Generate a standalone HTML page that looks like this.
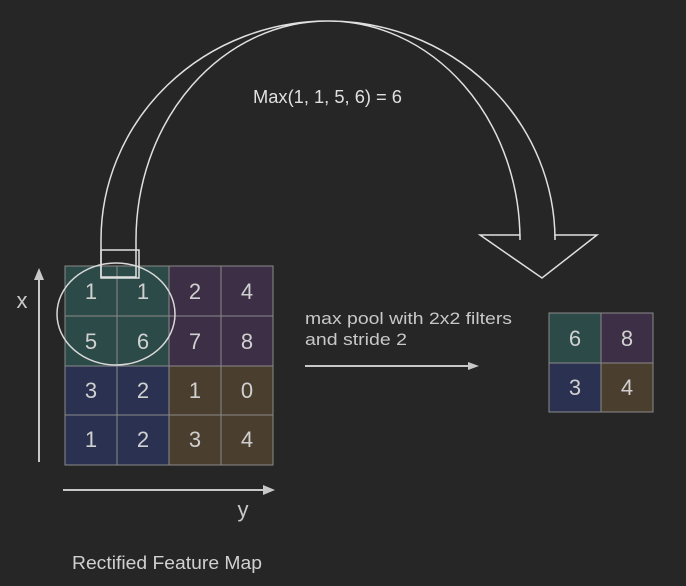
<!DOCTYPE html>
<html><head><style>body{margin:0;background:#262626;}svg{display:block}</style></head>
<body>
<svg width="686" height="586" xmlns="http://www.w3.org/2000/svg" font-family="Liberation Sans, sans-serif">
<rect width="686" height="586" fill="#262626"/>
<!-- left grid -->
<g stroke="#8a8a8a" stroke-width="1">
<rect x="65" y="266" width="52" height="50" fill="#2c4a47"/>
<rect x="117" y="266" width="52" height="50" fill="#2c4a47"/>
<rect x="65" y="316" width="52" height="50" fill="#2c4a47"/>
<rect x="117" y="316" width="52" height="50" fill="#2c4a47"/>
<rect x="169" y="266" width="52" height="50" fill="#3d2f45"/>
<rect x="221" y="266" width="52" height="50" fill="#3d2f45"/>
<rect x="169" y="316" width="52" height="50" fill="#3d2f45"/>
<rect x="221" y="316" width="52" height="50" fill="#3d2f45"/>
<rect x="65" y="366" width="52" height="49" fill="#2b3150"/>
<rect x="117" y="366" width="52" height="49" fill="#2b3150"/>
<rect x="65" y="415" width="52" height="50" fill="#2b3150"/>
<rect x="117" y="415" width="52" height="50" fill="#2b3150"/>
<rect x="169" y="366" width="52" height="49" fill="#4a3e2e"/>
<rect x="221" y="366" width="52" height="49" fill="#4a3e2e"/>
<rect x="169" y="415" width="52" height="50" fill="#4a3e2e"/>
<rect x="221" y="415" width="52" height="50" fill="#4a3e2e"/>
</g>
<g fill="#d0d0d0" font-size="22" text-anchor="middle">
<text x="91" y="299">1</text><text x="143" y="299">1</text><text x="195" y="299">2</text><text x="247" y="299">4</text>
<text x="91" y="349">5</text><text x="143" y="349">6</text><text x="195" y="349">7</text><text x="247" y="349">8</text>
<text x="91" y="398">3</text><text x="143" y="398">2</text><text x="195" y="398">1</text><text x="247" y="398">0</text>
<text x="91" y="447">1</text><text x="143" y="447">2</text><text x="195" y="447">3</text><text x="247" y="447">4</text>
</g>
<ellipse cx="116" cy="314" rx="59" ry="51" fill="none" stroke="#d8d8d8" stroke-width="1.5"/>
<!-- curved arrow -->
<path d="M101,277 L101,240 A227,219 0 0 1 555,240 L555,235 L597,235 L542,278 L480,235 L520,235 L520,240 A192,219 0 0 0 136,240 L136,277 Z" fill="none" stroke="#e0e0e0" stroke-width="1.5"/>
<rect x="101" y="250" width="38" height="28" fill="none" stroke="#e0e0e0" stroke-width="1.5"/>
<text x="253" y="103" fill="#e0e0e0" font-size="18" textLength="149" lengthAdjust="spacingAndGlyphs">Max(1, 1, 5, 6) = 6</text>
<!-- axes -->
<g stroke="#c8c8c8" stroke-width="2" fill="#c8c8c8">
<line x1="39" y1="462" x2="39" y2="278"/><polygon points="34,280 44,280 39,268" stroke="none"/>
<line x1="63" y1="490" x2="265" y2="490"/><polygon points="263,485 263,495 275,490" stroke="none"/>
<line x1="305" y1="366" x2="470" y2="366"/><polygon points="468,362 468,370 479,366" stroke="none"/>
</g>
<text x="22" y="308" fill="#c8c8c8" font-size="22" text-anchor="middle">x</text>
<text x="243" y="517" fill="#c8c8c8" font-size="22" text-anchor="middle">y</text>
<text x="305" y="324" fill="#c8c8c8" font-size="17" textLength="207" lengthAdjust="spacingAndGlyphs">max pool with 2x2 filters</text>
<text x="305" y="345" fill="#c8c8c8" font-size="17" textLength="102" lengthAdjust="spacingAndGlyphs">and stride 2</text>
<!-- right grid -->
<g stroke="#8a8a8a" stroke-width="1">
<rect x="549" y="313" width="52" height="50" fill="#2c4a47"/>
<rect x="601" y="313" width="52" height="50" fill="#3d2f45"/>
<rect x="549" y="363" width="52" height="49" fill="#2b3150"/>
<rect x="601" y="363" width="52" height="49" fill="#4a3e2e"/>
</g>
<g fill="#d0d0d0" font-size="22" text-anchor="middle">
<text x="575" y="346">6</text><text x="627" y="346">8</text>
<text x="575" y="395">3</text><text x="627" y="395">4</text>
</g>
<text x="72" y="569" fill="#d0d0d0" font-size="18" textLength="190" lengthAdjust="spacingAndGlyphs">Rectified Feature Map</text>
</svg>
</body></html>
